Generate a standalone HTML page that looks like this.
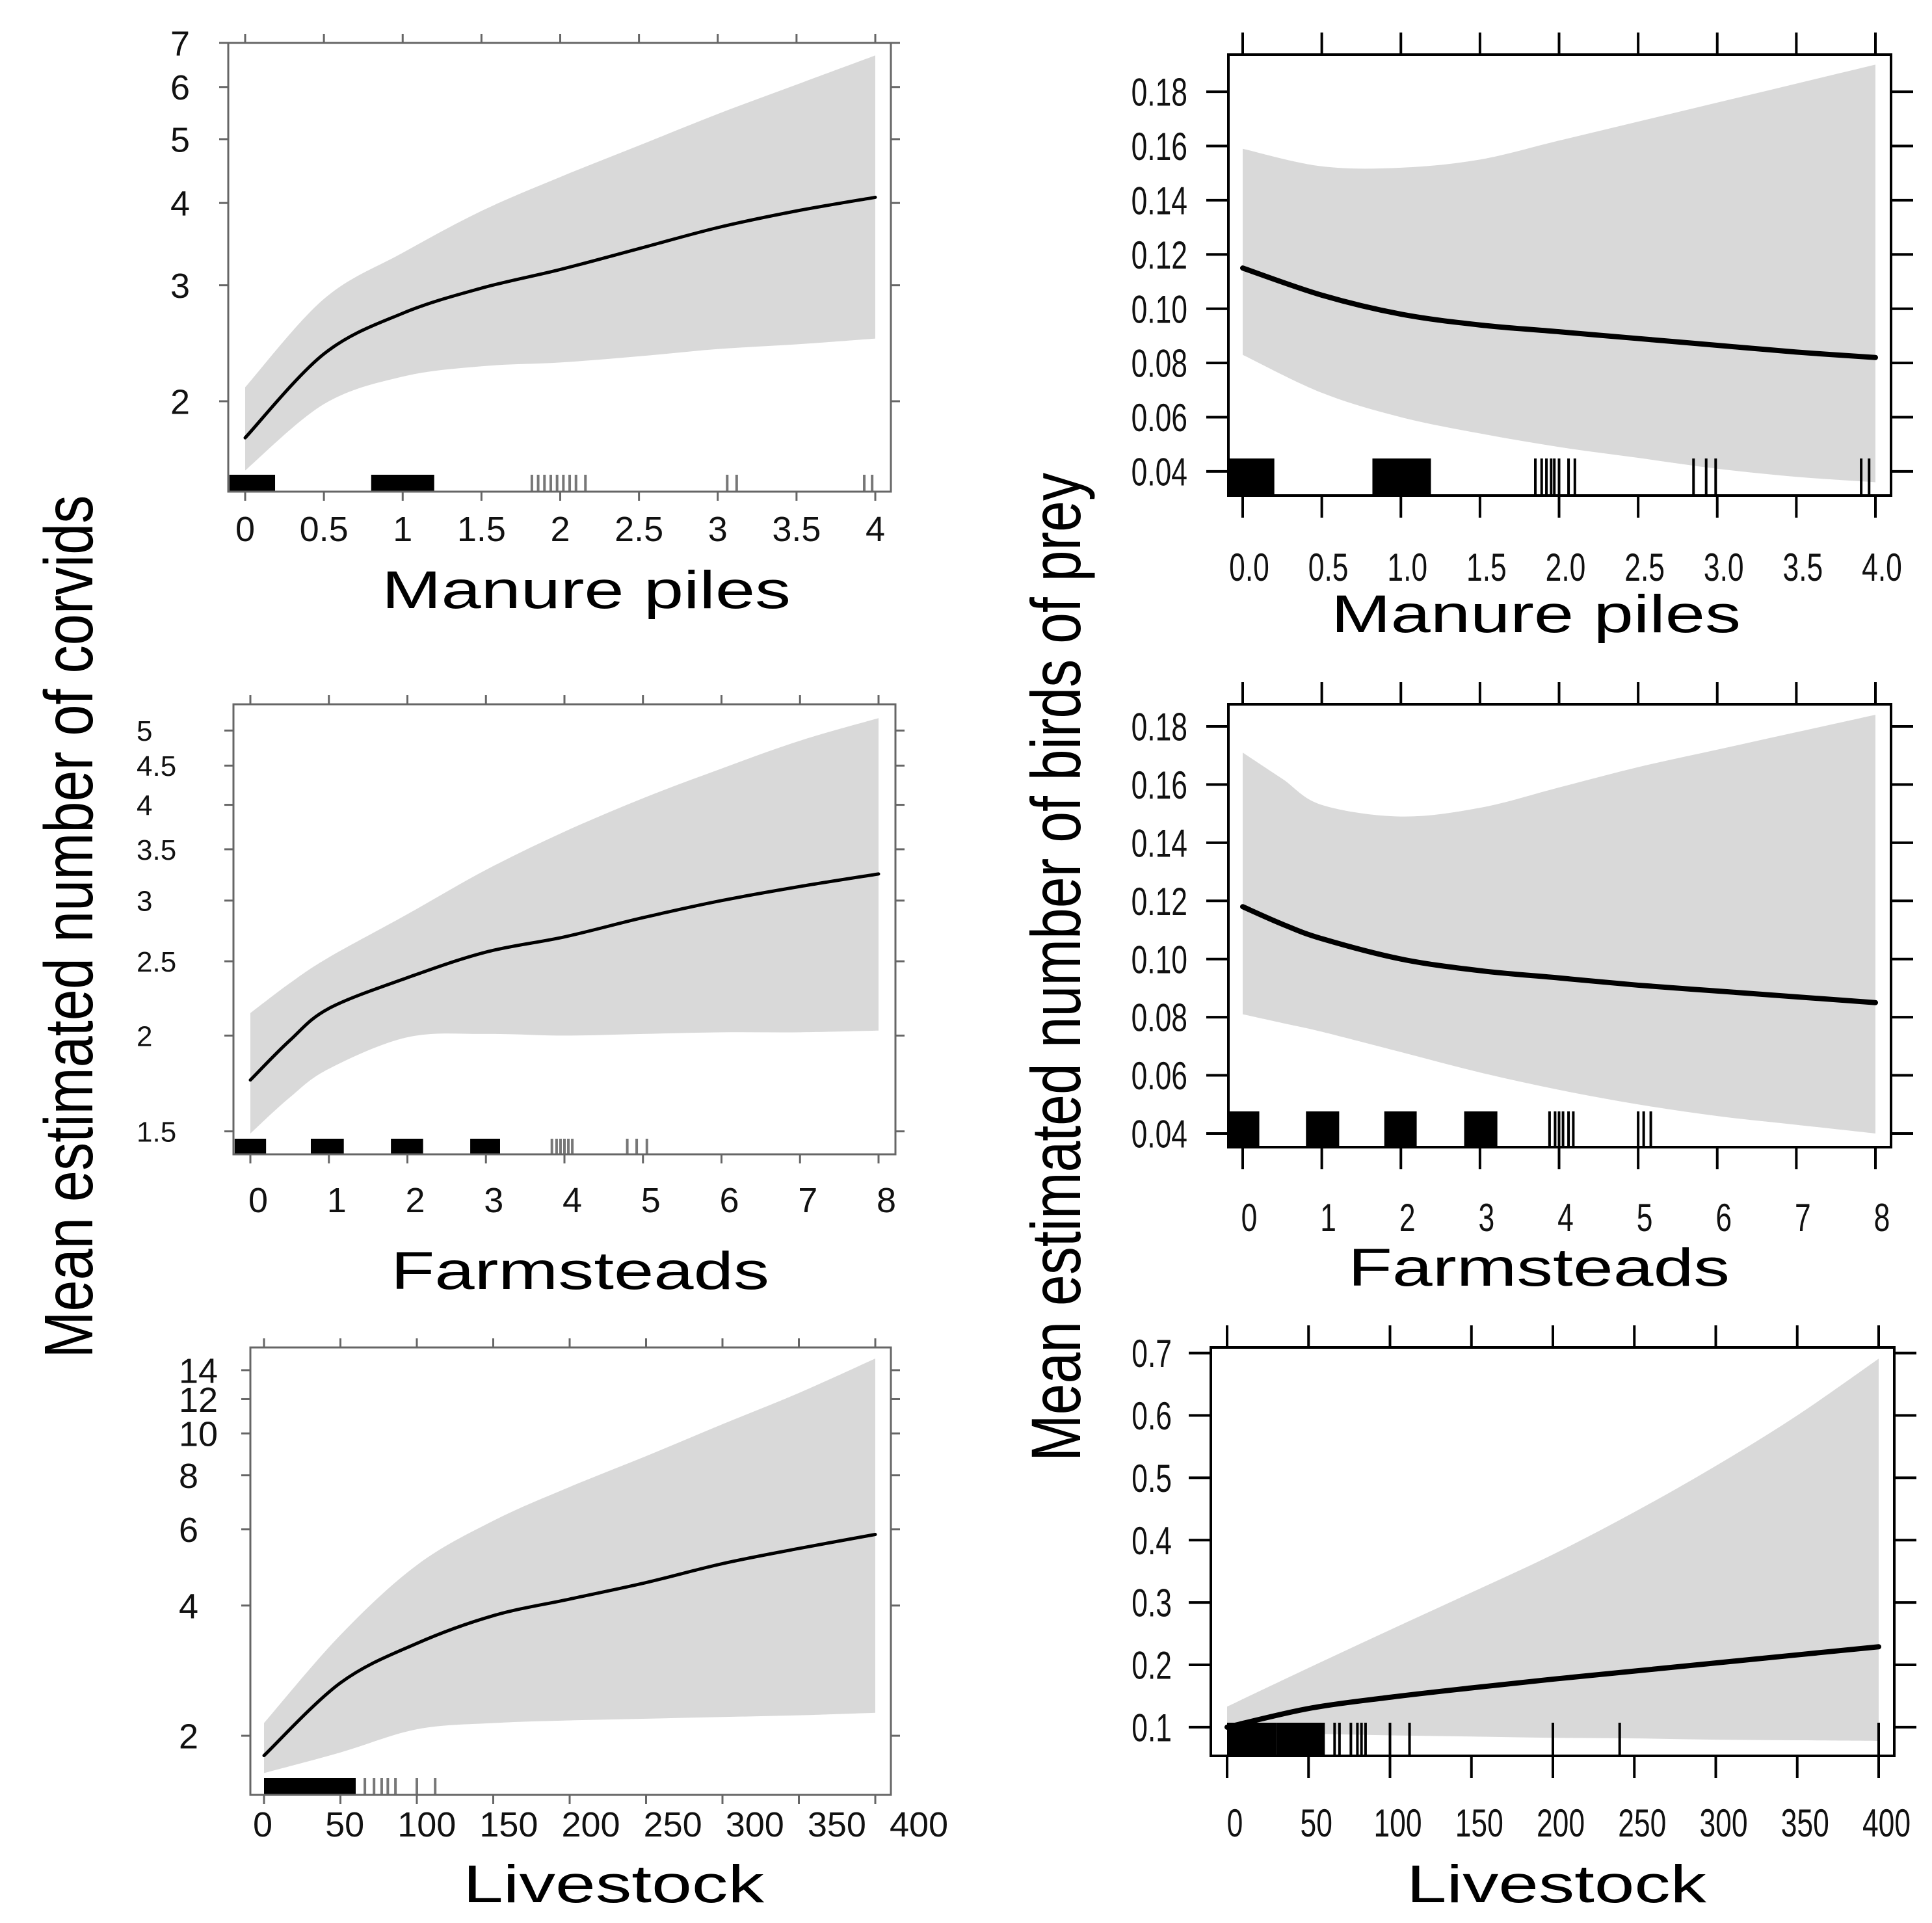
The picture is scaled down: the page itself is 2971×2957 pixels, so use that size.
<!DOCTYPE html>
<html><head><meta charset="utf-8"><style>
html,body{margin:0;padding:0;background:#fff;}
svg{display:block;font-family:"Liberation Sans",Arial,sans-serif;}
</style></head><body>
<svg id="chart" width="2971" height="2957" viewBox="0 0 2971 2957" xmlns="http://www.w3.org/2000/svg">
<rect width="2971" height="2957" fill="#fff"/>
<text x="0" y="0" font-size="106" textLength="1327" lengthAdjust="spacingAndGlyphs" text-anchor="middle" transform="translate(142,1425) rotate(-90)">Mean estimated number of corvids</text>
<text x="0" y="0" font-size="108" textLength="1520" lengthAdjust="spacingAndGlyphs" text-anchor="middle" transform="translate(1661,1487) rotate(-90)">Mean estimated number of birds of prey</text>
</svg>
<script>
// ---- Data ----
const p1X = [0,0.5,1,1.5,2,2.5,3,3.5,4];
const p1Fit = [1.76,2.36,2.72,2.97,3.17,3.41,3.67,3.89,4.08];
const p1Up = [2.1,2.86,3.36,3.89,4.38,4.89,5.46,6.05,6.7];
const p1Lo = [1.57,1.98,2.18,2.26,2.29,2.34,2.40,2.44,2.49];
const p1XTicks = [0,0.5,1,1.5,2,2.5,3,3.5,4];
const p1XLabels = ["0","0.5","1","1.5","2","2.5","3","3.5","4"];
const p1YTicks = [2,3,4,5,6,7];
const p1YLabels = ["2","3","4","5","6","7"];
const p1RugBlocks = [[-0.1,0.19],[0.8,1.2]];
const p1RugLines = [1.82,1.86,1.9,1.94,1.98,2.02,2.06,2.1,2.16,3.06,3.12,3.93,3.98];

const p2X = [0,0.5,1,1.5,2,2.5,3,3.5,4];
const p2Fit = [0.115,0.105,0.098,0.094,0.0915,0.089,0.0865,0.084,0.082];
const p2Up = [0.159,0.1525,0.152,0.155,0.162,0.169,0.176,0.183,0.19];
const p2Lo = [0.083,0.069,0.060,0.054,0.049,0.045,0.041,0.038,0.036];
const p2XTicks = [0,0.5,1,1.5,2,2.5,3,3.5,4];
const p2XLabels = ["0.0","0.5","1.0","1.5","2.0","2.5","3.0","3.5","4.0"];
const p2YTicks = [0.04,0.06,0.08,0.10,0.12,0.14,0.16,0.18];
const p2YLabels = ["0.04","0.06","0.08","0.10","0.12","0.14","0.16","0.18"];
const p2RugBlocks = [[-0.09,0.2],[0.82,1.19]];
const p2RugLines = [1.85,1.89,1.92,1.95,1.97,2.0,2.06,2.1,2.85,2.93,2.99,3.91,3.96];

const p3X = [0,0.5,1,2,3,4,5,6,7,8];
const p3Fit = [1.75,1.97,2.17,2.38,2.57,2.69,2.85,3.0,3.13,3.25];
const p3Up = [2.14,2.34,2.53,2.88,3.29,3.69,4.08,4.46,4.85,5.19];
const p3Lo = [1.49,1.66,1.81,1.99,2.01,2.0,2.01,2.02,2.02,2.03];
const p3XTicks = [0,1,2,3,4,5,6,7,8];
const p3XLabels = ["0","1","2","3","4","5","6","7","8"];
const p3YTicks = [1.5,2,2.5,3,3.5,4,4.5,5];
const p3YLabels = ["1.5","2","2.5","3","3.5","4","4.5","5"];
const p3RugBlocks = [[-0.2,0.2],[0.77,1.19],[1.79,2.2],[2.8,3.18]];
const p3RugLines = [3.84,3.9,3.95,4.0,4.05,4.1,4.8,4.92,5.05];

const p4X = [0,0.5,1,2,3,4,5,6,7,8];
const p4Fit = [0.118,0.112,0.107,0.1,0.096,0.0935,0.091,0.089,0.087,0.085];
const p4Up = [0.171,0.162,0.153,0.149,0.152,0.159,0.166,0.172,0.178,0.184];
const p4Lo = [0.081,0.078,0.075,0.068,0.061,0.055,0.050,0.046,0.043,0.040];
const p4XTicks = [0,1,2,3,4,5,6,7,8];
const p4XLabels = ["0","1","2","3","4","5","6","7","8"];
const p4YTicks = [0.04,0.06,0.08,0.10,0.12,0.14,0.16,0.18];
const p4YLabels = ["0.04","0.06","0.08","0.10","0.12","0.14","0.16","0.18"];
const p4RugBlocks = [[-0.18,0.21],[0.8,1.22],[1.79,2.2],[2.8,3.22]];
const p4RugLines = [3.88,3.95,4.0,4.05,4.12,4.18,5.0,5.07,5.16];

const p5X = [0,50,100,150,200,250,300,350,400];
const p5Fit = [1.80,2.65,3.27,3.79,4.14,4.52,5.0,5.42,5.84];
const p5Up = [2.14,3.42,4.96,6.28,7.52,8.86,10.5,12.4,14.9];
const p5Lo = [1.64,1.83,2.07,2.14,2.17,2.19,2.21,2.23,2.26];
const p5XTicks = [0,50,100,150,200,250,300,350,400];
const p5XLabels = ["0","50","100","150","200","250","300","350","400"];
const p5YTicks = [2,4,6,8,10,12,14];
const p5YLabels = ["2","4","6","8","10","12","14"];
const p5RugBlocks = [[0,30],[30,60]];
const p5RugLines = [66,72,77,81,86,100,112];

const p6X = [0,50,100,150,200,250,300,350,400];
const p6Fit = [0.1,0.13,0.148,0.163,0.177,0.19,0.203,0.216,0.229];
const p6Up = [0.133,0.195,0.256,0.316,0.377,0.445,0.519,0.6,0.691];
const p6Lo = [0.098,0.09,0.087,0.085,0.083,0.082,0.080,0.079,0.078];
const p6XTicks = [0,50,100,150,200,250,300,350,400];
const p6XLabels = ["0","50","100","150","200","250","300","350","400"];
const p6YTicks = [0.1,0.2,0.3,0.4,0.5,0.6,0.7];
const p6YLabels = ["0.1","0.2","0.3","0.4","0.5","0.6","0.7"];
const p6RugBlocks = [[0,30],[30,60]];
const p6RugLines = [66,69,76,80,82.5,85,100,112,200,241,400];

const NS = "http://www.w3.org/2000/svg";
const svg = document.getElementById("chart");
function mk(tag, attrs, parent){
  const e = document.createElementNS(NS, tag);
  for (const k in attrs) e.setAttribute(k, attrs[k]);
  (parent||svg).appendChild(e);
  return e;
}
function smooth(pts, start){
  let d = start ? ("M" + pts[0][0] + "," + pts[0][1]) : ("L" + pts[0][0] + "," + pts[0][1]);
  for (let i = 0; i < pts.length-1; i++){
    const p0 = pts[i-1]||pts[i], p1 = pts[i], p2 = pts[i+1], p3 = pts[i+2]||p2;
    const c1 = [p1[0]+(p2[0]-p0[0])/6, p1[1]+(p2[1]-p0[1])/6];
    const c2 = [p2[0]-(p3[0]-p1[0])/6, p2[1]-(p3[1]-p1[1])/6];
    d += "C" + c1.join(",") + " " + c2.join(",") + " " + p2.join(",");
  }
  return d;
}

function panel(cfg){
  const g = mk("g", {});
  
  
  const xs = v => cfg.px0 + (v - cfg.x0) / (cfg.x1 - cfg.x0) * (cfg.px1 - cfg.px0);
  const tf = cfg.log ? Math.log : (v => v);
  const ys = v => cfg.py0 + (tf(v) - tf(cfg.y0)) / (tf(cfg.y1) - tf(cfg.y0)) * (cfg.py1 - cfg.py0);
  const lxs = cfg.labelScale ? (v => cfg.labelScale[0] + v / cfg.x1 * (cfg.labelScale[1] - cfg.labelScale[0])) : (v => xs(v) + (cfg.labelDx||0));

  // band
  const upPts = cfg.X.map((x,i)=>[xs(x), ys(cfg.up[i])]);
  const loPts = cfg.X.map((x,i)=>[xs(x), ys(cfg.lo[i])]).reverse();
  const band = mk("path", {d: smooth(upPts, true) + smooth(loPts, false) + "Z", fill: "#d9d9d9", stroke: "none"}, g);
  
  

  const pts = cfg.X.map((x,i)=>[xs(x), ys(cfg.fit[i])]);
  const fit = mk("path", {d: smooth(pts, true), fill: "none", stroke: "#000", "stroke-width": cfg.lw, "stroke-linecap": "round"}, g);
  
  

  // rug
  cfg.rugBlocks.forEach(b=>{
    const r = mk("rect", {x: xs(b[0]), y: cfg.rugTop, width: xs(b[1]) - xs(b[0]), height: cfg.py0 - cfg.rugTop, fill: "#000"}, g);
    
    
  });
  cfg.rugLines.forEach(v=>{
    const l = mk("line", {x1: xs(v), x2: xs(v), y1: cfg.rugTop, y2: cfg.py0, stroke: cfg.rugColor, "stroke-width": 4}, g);
    
    
  });

  // frame
  const fr = mk("rect", {x: cfg.fx0, y: cfg.fy0, width: cfg.fx1 - cfg.fx0, height: cfg.fy1 - cfg.fy0, fill: "none", stroke: cfg.frameColor, "stroke-width": cfg.fw}, g);
  
  

  cfg.xTicks.forEach((v,i)=>{
    const x = xs(v);
    const t1 = mk("line", {x1: x, x2: x, y1: cfg.fy0, y2: cfg.fy0 - cfg.tl, stroke: cfg.frameColor, "stroke-width": cfg.tw}, g);
    
    
    const t2 = mk("line", {x1: x, x2: x, y1: cfg.fy1, y2: cfg.fy1 + cfg.tl, stroke: cfg.frameColor, "stroke-width": cfg.tw}, g);
    
    
    const lb = mk("text", {x: lxs(v), y: cfg.xLabelY, "font-size": cfg.tfs, "text-anchor": "middle", fill: "#111"}, g);
    lb.textContent = cfg.xLabels[i];
    
    
    if (cfg.narrow) { const w = lb.getComputedTextLength(); lb.setAttribute("textLength", w*cfg.narrow); lb.setAttribute("lengthAdjust","spacingAndGlyphs"); }
  });
  cfg.yTicks.forEach((v,i)=>{
    const y = ys(v);
    const t1 = mk("line", {x1: cfg.fx0, x2: cfg.fx0 - cfg.tl, y1: y, y2: y, stroke: cfg.frameColor, "stroke-width": cfg.tw}, g);
    
    
    const t2 = mk("line", {x1: cfg.fx1, x2: cfg.fx1 + cfg.tl, y1: y, y2: y, stroke: cfg.frameColor, "stroke-width": cfg.tw}, g);
    
    
    const fs = cfg.yfs || cfg.tfs;
    const lb = mk("text", {x: cfg.yLabelX, y: y + fs*0.36, "font-size": fs, "text-anchor": cfg.yAnchor, fill: "#111"}, g);
    lb.textContent = cfg.yLabels[i];
    
    
    if (cfg.narrow) { const w = lb.getComputedTextLength(); lb.setAttribute("textLength", w*cfg.narrow); lb.setAttribute("lengthAdjust","spacingAndGlyphs"); }
  });
  const tt = mk("text", {x: (cfg.titleX0+cfg.titleX1)/2, y: cfg.titleY, "font-size": 82, "text-anchor": "middle", textLength: cfg.titleX1 - cfg.titleX0, lengthAdjust: "spacingAndGlyphs", fill: "#000"}, g);
  tt.textContent = cfg.title;
  
  
}

const L = {frameColor:"#666", fw:3, tw:3, tl:14, lw:5, tfs:54, rugColor:"#777", yAnchor:"end"};
const R = {frameColor:"#000", fw:4, tw:4, tl:34, lw:8, tfs:60, rugColor:"#000", yAnchor:"end", narrow:0.74};

panel(Object.assign({}, L, {name:"corvids-manure-panel", X:p1X, fit:p1Fit, up:p1Up, lo:p1Lo, xTicks:p1XTicks, xLabels:p1XLabels, yTicks:p1YTicks, yLabels:p1YLabels, rugBlocks:p1RugBlocks, rugLines:p1RugLines,
  log:true, x0:0, x1:4, px0:377, px1:1346, y0:1.458, y1:7, py0:756, py1:66, fx0:351, fx1:1370, fy0:66, fy1:756, rugTop:730,
  xLabelY:832, yLabelX:292, title:"Manure piles", titleX0:587, titleX1:1216, titleY:935}));

panel(Object.assign({}, R, {name:"raptors-manure-panel", X:p2X, fit:p2Fit, up:p2Up, lo:p2Lo, xTicks:p2XTicks, xLabels:p2XLabels, yTicks:p2YTicks, yLabels:p2YLabels, rugBlocks:p2RugBlocks, rugLines:p2RugLines,
  log:false, x0:0, x1:4, px0:1911, px1:2884, y0:0.0311, y1:0.1937, py0:762, py1:84, fx0:1889, fx1:2908, fy0:84, fy1:762, rugTop:705,
  xLabelY:893, yLabelX:1826, labelDx:10, title:"Manure piles", titleX0:2047, titleX1:2677, titleY:972}));

panel(Object.assign({}, L, {name:"corvids-farmsteads-panel", X:p3X, fit:p3Fit, up:p3Up, lo:p3Lo, xTicks:p3XTicks, xLabels:p3XLabels, yTicks:p3YTicks, yLabels:p3YLabels, rugBlocks:p3RugBlocks, rugLines:p3RugLines,
  log:true, x0:0, x1:8, px0:385, px1:1351, y0:1.40, y1:5.41, py0:1775, py1:1083, fx0:359, fx1:1377, fy0:1083, fy1:1775, rugTop:1751,
  xLabelY:1864, yLabelX:210, yAnchor:"start", yfs:44, labelDx:12, title:"Farmsteads", titleX0:601, titleX1:1183, titleY:1982}));

panel(Object.assign({}, R, {name:"raptors-farmsteads-panel", X:p4X, fit:p4Fit, up:p4Up, lo:p4Lo, xTicks:p4XTicks, xLabels:p4XLabels, yTicks:p4YTicks, yLabels:p4YLabels, rugBlocks:p4RugBlocks, rugLines:p4RugLines,
  log:false, x0:0, x1:8, px0:1911, px1:2884, y0:0.0353, y1:0.1876, py0:1764, py1:1083, fx0:1889, fx1:2908, fy0:1083, fy1:1764, rugTop:1709,
  xLabelY:1893, yLabelX:1826, labelDx:10, title:"Farmsteads", titleX0:2073, titleX1:2660, titleY:1977}));

panel(Object.assign({}, L, {name:"corvids-livestock-panel", X:p5X, fit:p5Fit, up:p5Up, lo:p5Lo, xTicks:p5XTicks, xLabels:p5XLabels, yTicks:p5YTicks, yLabels:p5YLabels, rugBlocks:p5RugBlocks, rugLines:p5RugLines,
  log:true, x0:0, x1:400, px0:406, px1:1346, y0:1.46, y1:15.8, py0:2760, py1:2072, fx0:385, fx1:1370, fy0:2072, fy1:2760, rugTop:2734,
  xLabelY:2824, yLabelX:275, yAnchor:"start", labelScale:[404,1413], title:"Livestock", titleX0:712, titleX1:1175, titleY:2925}));

panel(Object.assign({}, R, {name:"raptors-livestock-panel", X:p6X, fit:p6Fit, up:p6Up, lo:p6Lo, xTicks:p6XTicks, xLabels:p6XLabels, yTicks:p6YTicks, yLabels:p6YLabels, rugBlocks:p6RugBlocks, rugLines:p6RugLines,
  log:false, x0:0, x1:400, px0:1887, px1:2889, y0:0.054, y1:0.709, py0:2700, py1:2072, fx0:1862, fx1:2913, fy0:2072, fy1:2700, rugTop:2649,
  xLabelY:2824, yLabelX:1802, labelDx:12, title:"Livestock", titleX0:2163, titleX1:2624, titleY:2925}));
</script>
</body></html>
